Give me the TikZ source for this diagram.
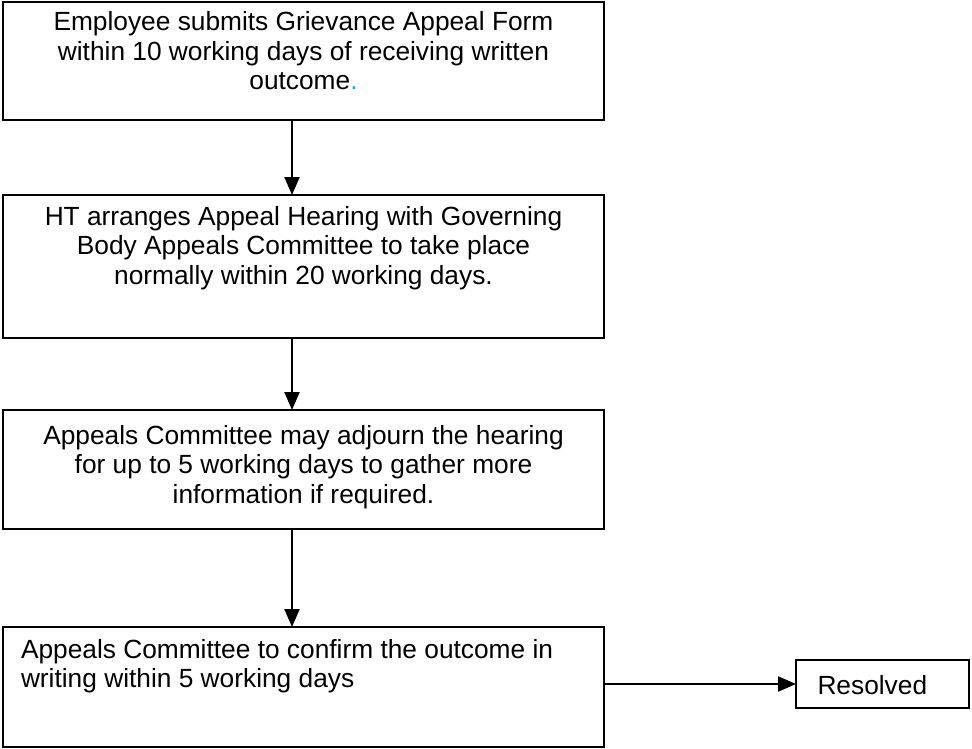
\documentclass[tikz,border=0pt]{standalone}
\usepackage{fontspec}
\setmainfont{Liberation Sans}
\usetikzlibrary{arrows.meta}
\definecolor{dotblue}{RGB}{0,176,240}
\tikzset{
  flowbox/.style={draw=black, line width=1.8pt, inner sep=0pt, outer sep=0pt, rectangle},
  flowarrow/.style={line width=2.2pt, -{Triangle[width=15pt,length=18pt]}},
}
\newcommand{\boxtxt}[5]{\parbox[c][#1pt][t]{#2pt}{#4\fontsize{26.3}{29.5}\selectfont\rule{0pt}{#3pt}#5}}
\begin{document}
\begin{tikzpicture}[x=1pt,y=-1pt]
\useasboundingbox (0,0) rectangle (972,749);
\fill[white] (0,0) rectangle (972,749);
\coordinate (ax) at (292,0);
\node[flowbox, minimum width=601pt, minimum height=118pt] (b1) at (303.5,61)
  {\boxtxt{118}{591}{29}{\centering}{Employee submits Grievance Appeal Form\\within 10 working days of receiving written\\outcome{\color{dotblue}.}}};
\node[flowbox, minimum width=601pt, minimum height=143pt] (b2) at (303.5,266.5)
  {\boxtxt{143}{591}{30}{\centering}{HT arranges Appeal Hearing with Governing\\Body Appeals Committee to take place\\normally within 20 working days.}};
\node[flowbox, minimum width=601pt, minimum height=119pt] (b3) at (303.5,469.5)
  {\boxtxt{119}{591}{34}{\centering}{Appeals Committee may adjourn the hearing\\for up to 5 working days to gather more\\information if required.}};
\node[flowbox, minimum width=601pt, minimum height=120pt] (b4) at (303.5,687)
  {\boxtxt{120}{565}{31}{\raggedright}{Appeals Committee to confirm the outcome in\\writing within 5 working days}};
\node[flowbox, minimum width=173pt, minimum height=48pt] (res) at (882.5,684)
  {\boxtxt{48}{130}{34}{\raggedright}{Resolved}};
\draw[flowarrow] (b1.south -| ax) -- (b2.north -| ax);
\draw[flowarrow] (b2.south -| ax) -- (b3.north -| ax);
\draw[flowarrow] (b3.south -| ax) -- (b4.north -| ax);
\draw[flowarrow] (b4.east |- res.west) -- (res.west);
\end{tikzpicture}
\end{document}
